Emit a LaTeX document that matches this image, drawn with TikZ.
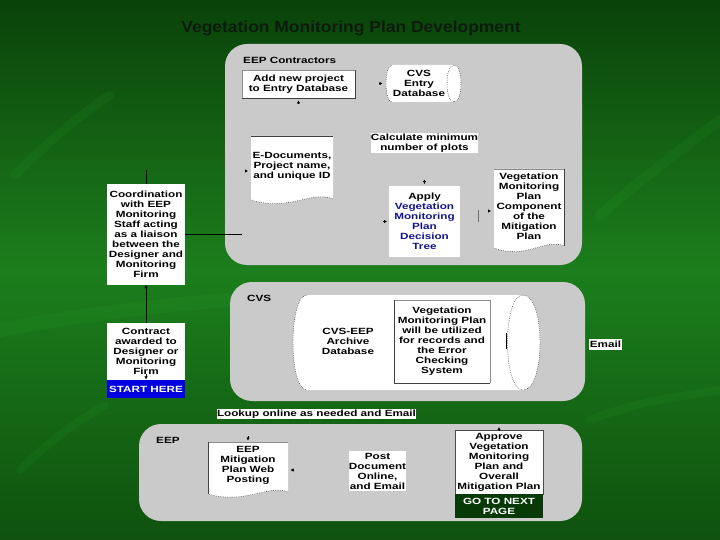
\documentclass[tikz,border=0pt]{standalone}
\usepackage{fontspec}
\usetikzlibrary{arrows.meta,calc}
\newfontfamily\boxfont[FakeStretch=1.3]{Liberation Sans}
\newfontfamily\titlefont[FakeStretch=1.09]{Liberation Sans}
\definecolor{gtop}{RGB}{10,66,10}
\definecolor{gmid}{RGB}{28,126,28}
\definecolor{gbot}{RGB}{14,82,14}
\definecolor{panelgray}{RGB}{202,202,202}
\definecolor{startblue}{RGB}{0,0,225}
\definecolor{nextgreen}{RGB}{8,58,8}
\definecolor{navytext}{RGB}{20,20,140}
\definecolor{titlecol}{RGB}{12,28,12}
\begin{document}
\begin{tikzpicture}[x=1pt,y=-1pt,
  txt/.style={font=\boxfont\bfseries\fontsize{9}{10}\selectfont, align=center, inner sep=0pt, text=black},
  wbox/.style={txt, fill=white, draw=none},
  frame/.style={draw=none, fill=none, inner sep=0pt},
  panel/.style={fill=panelgray, rounded corners=22pt},
  lbl/.style={txt, anchor=west},
  stub/.style={-{Triangle[length=2.8pt,width=3pt]}, line width=0.4pt, black},
  conn/.style={line width=0.5pt, black},
  dotl/.style={line width=0.5pt, black!85, dash pattern=on 0.6pt off 1.2pt},
  edge/.style={line width=0.6pt, black!75},
  thin/.style={line width=0.4pt, black!45}]
\useasboundingbox (0,0) rectangle (720,540);
% background
\shade[top color=gtop, bottom color=gbot, middle color=gmid] (0,0) rectangle (720,540);
\begin{scope}[opacity=0.05, line cap=round]
  \draw[line width=14pt, green!70!white] (0,330) .. controls (80,315) and (160,305) .. (230,300);
  \draw[line width=9pt, green!70!white] (15,175) .. controls (50,140) and (80,115) .. (110,95);
  \draw[line width=10pt, green!70!white] (600,215) .. controls (640,180) and (680,150) .. (720,120);
  \draw[line width=8pt, green!70!white] (590,420) .. controls (640,400) and (690,395) .. (720,390);
  \draw[line width=8pt, green!70!white] (20,470) .. controls (50,440) and (80,420) .. (105,405);
\end{scope}
% title
\node[font=\titlefont\bfseries\fontsize{16}{18}\selectfont, text=titlecol, inner sep=0pt] (title) at (351,28) {Vegetation Monitoring Plan Development};
% panels
\fill[panel] (225,44) rectangle (582,265);
\fill[panel] (230,282) rectangle (585,401);
\fill[panel] (139,424) rectangle (582,521);
\node[lbl] (lcontr) at (243,60) {EEP Contractors};
\node[lbl] (lcvs) at (247,298) {CVS};
\node[lbl] (leep) at (156,440) {EEP};

% ---------- EEP Contractors panel
\node[wbox, minimum width=113, minimum height=28] (add) at (298.5,84) {Add new project\\to Entry Database};
\draw[thin] (add.south west) -- (add.north west) -- (add.north east);
\draw[edge] (add.north east) -- (add.south east) -- (add.south west);
% CVS entry database cylinder
\fill[white] (392,65) -- (454,65) .. controls (463.3,65) and (463.3,102) .. (454,102) -- (392,102) .. controls (384,102) and (384,65) .. (392,65) -- cycle;
\draw[dotl] (392,65) .. controls (384,65) and (384,102) .. (392,102);
\draw[dotl] (454,65) .. controls (463.3,65) and (463.3,102) .. (454,102);
\draw[dotl] (454,65) .. controls (444.7,65) and (444.7,102) .. (454,102);
\node[frame, minimum width=75, minimum height=37] (cvsentry) at (423.5,83.5) {};
\node[txt] (cvsentryt) at (419,83.5) {CVS\\Entry\\Database};
% E-Documents document
\fill[white] (251,136) -- (333,136) -- (333,199) .. controls (312,190) and (288,212) .. (251,200) -- cycle;
\draw[edge] (251,136) -- (333,136);
\draw[dotl] (333,199) .. controls (312,190) and (288,212) .. (251,200);
\node[frame, minimum width=82, minimum height=70] (edocs) at (292,171) {};
\node[txt] (edoct) at (292,166) {E-Documents,\\Project name,\\and unique ID};
% calculate
\node[wbox, minimum width=107, minimum height=20] (calc) at (424.5,143) {Calculate minimum\\number of plots};
% apply
\node[wbox, minimum width=71, minimum height=71] (apply) at (424.5,221.5) {Apply\\\textcolor{navytext}{Vegetation}\\\textcolor{navytext}{Monitoring}\\\textcolor{navytext}{Plan}\\\textcolor{navytext}{Decision}\\\textcolor{navytext}{Tree}};
% vegetation component document
\fill[white] (494,169) -- (564,169) -- (564,246) .. controls (546,238) and (525,260) .. (494,248) -- cycle;
\draw[thin] (494,169) -- (564,169);
\draw[edge] (564,169) -- (564,246);
\draw[dotl] (564,246) .. controls (546,238) and (525,260) .. (494,248);
\node[frame, minimum width=70, minimum height=84] (vcomp) at (529,211) {};
\node[txt] (vcompt) at (529,206.5) {Vegetation\\Monitoring\\Plan\\Component\\of the\\Mitigation\\Plan};

% ---------- left column
\node[wbox, minimum width=78, minimum height=101] (coord) at (146,234.5) {Coordination\\with EEP\\Monitoring\\Staff acting\\as a liaison\\between the\\Designer and\\Monitoring\\Firm};
\node[wbox, minimum width=78, minimum height=57] (contract) at (146,351.5) {Contract\\awarded to\\Designer or\\Monitoring\\Firm};
\node[txt, fill=startblue, text=white, minimum width=78, minimum height=18] (start) at (146,389) {START HERE};

% ---------- CVS panel
\fill[white] (307,295) -- (523,295) .. controls (545.7,295) and (545.7,390) .. (523,390) -- (307,390) .. controls (288.3,390) and (288.3,295) .. (307,295) -- cycle;
\draw[dotl] (307,295) .. controls (288.3,295) and (288.3,390) .. (307,390);
\draw[dotl] (523,295) .. controls (545.7,295) and (545.7,390) .. (523,390);
\draw[dotl] (523,295) .. controls (502.3,295) and (502.3,390) .. (523,390);
\node[frame, minimum width=248, minimum height=96] (archive) at (416,342.5) {};
\node[txt] (archivet) at (348,341) {CVS-EEP\\Archive\\Database};
\node[wbox, minimum width=96, minimum height=83] (vmp) at (442,341.5) {Vegetation\\Monitoring Plan\\will be utilized\\for records and\\the Error\\Checking\\System};
\draw[thin] (vmp.north west) -- (vmp.north east) -- (vmp.south east);
\draw[edge] (vmp.north west) -- (vmp.south west) -- (vmp.south east);
\node[wbox, minimum width=33, minimum height=11] (email) at (605.5,344) {Email};

% ---------- EEP panel
\node[wbox, minimum width=197, minimum height=10] (lookup) at (316.5,414) {Lookup online as needed and Email};
\fill[white] (208,442) -- (288,442) -- (288,492) .. controls (268,484) and (245,505) .. (208,494) -- cycle;
\draw[thin] (208,442) -- (288,442);
\draw[edge] (208,442) -- (208,494);
\draw[dotl] (288,492) .. controls (268,484) and (245,505) .. (208,494);
\node[frame, minimum width=80, minimum height=56] (mitig) at (248,470) {};
\node[txt] (mitigt) at (248,465.5) {EEP\\Mitigation\\Plan Web\\Posting};
\node[wbox, minimum width=57, minimum height=40] (post) at (377.5,471) {Post\\Document\\Online,\\and Email};
\node[wbox, minimum width=88, minimum height=64, draw=black!70, line width=0.5pt] (approve) at (499,462) {Approve\\Vegetation\\Monitoring\\Plan and\\Overall\\Mitigation Plan};
\node[txt, fill=nextgreen, text=white, minimum width=88, minimum height=24] (next) at (499,506) {GO TO NEXT\\PAGE};

% ---------- connectors (only their visible parts)
\coordinate (coordtop) at ($(coord.north)+(0,-14)$);
\coordinate (panelin) at (242,234.5);
\draw[conn] (coord.north) -- (coordtop);
\draw[conn] (coord.east) -- (panelin);
\draw[conn, -{Triangle[length=3pt,width=3pt]}] (contract.north) -- (coord.south);
\draw[stub] ($(contract.south)+(0,-6)$) -- ($(contract.south)+(0,-1)$);
\draw[stub] ($(cvsentry.west)+(-7,0)$) -- ($(cvsentry.west)+(-3.5,0)$);
\draw[stub] ($(add.south)+(0,5)$) -- ($(add.south)+(0,2.5)$);
\draw[stub] ($(edocs.west)+(-6,0)$) -- ($(edocs.west)+(-3,0)$);
\draw[stub] ($(apply.north)+(0,-6)$) -- ($(apply.north)+(0,-2)$);
\draw[stub] ($(apply.west)+(-6,0)$) -- ($(apply.west)+(-2,0)$);
\draw[thin, black!55] ($(apply.east)+(17.5,-11)$) -- ($(apply.east)+(17.5,0.5)$);
\draw[stub] ($(vcomp.west)+(-6,0)$) -- ($(vcomp.west)+(-3,0)$);
\draw[conn] ($(archive.east)+(-34,-10)$) -- ($(archive.east)+(-34,6)$);
\draw[stub] ($(mitig.north)+(0,-6)$) -- ($(mitig.north)+(0,-1.5)$);
\draw[stub] ($(mitig.east)+(6,0)$) -- ($(mitig.east)+(2.5,0)$);
\draw[stub] ($(approve.north)+(0,1)$) -- ($(approve.north)+(0,-2.5)$);
\end{tikzpicture}
\end{document}
